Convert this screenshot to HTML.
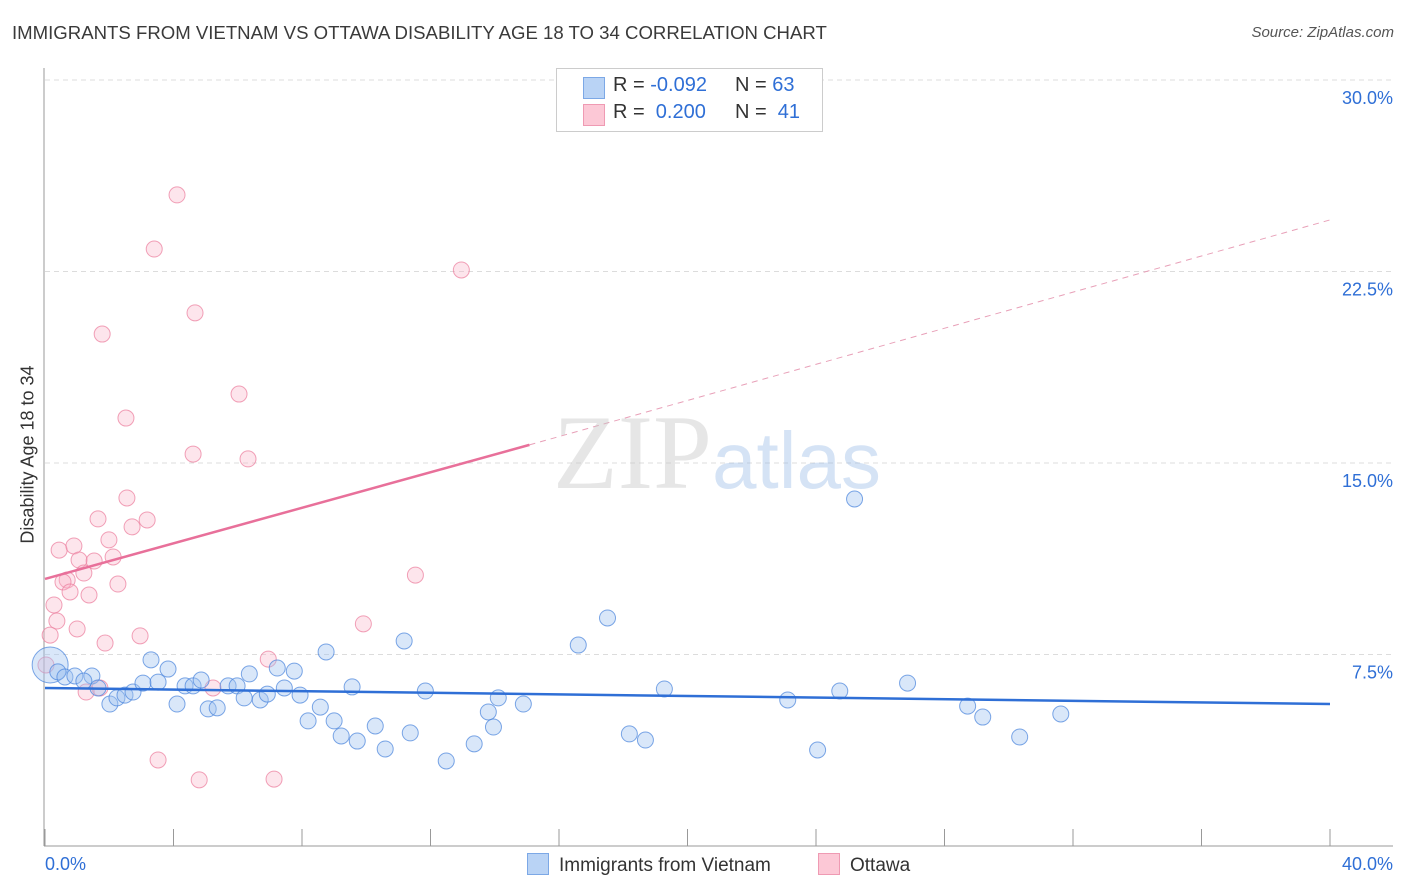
<!DOCTYPE html>
<html><head><meta charset="utf-8"><style>
body{margin:0;background:#fff;font-family:"Liberation Sans",sans-serif;}
#wrap{position:relative;width:1406px;height:892px;overflow:hidden;}
.t{position:absolute;white-space:nowrap;}
</style></head><body>
<div id="wrap">
<div class="t" style="left:12px;top:22px;font-size:18.6px;color:#3a3a3a;">IMMIGRANTS FROM VIETNAM VS OTTAWA DISABILITY AGE 18 TO 34 CORRELATION CHART</div>
<div class="t" style="right:12px;top:24px;font-size:15px;color:#555;font-style:italic;">Source: ZipAtlas.com</div>
<svg id="svg" width="1406" height="892" style="position:absolute;left:0;top:0"></svg>
<div class="t" style="left:553px;top:392px;font-size:106px;color:rgba(200,200,200,0.45);font-family:'Liberation Serif',serif;">ZIP<span style="font-family:'Liberation Sans',sans-serif;color:rgba(150,185,230,0.4);font-size:80px;">atlas</span></div>
<div class="t" style="left:-72px;top:444px;font-size:18px;color:#333;transform:rotate(-90deg);width:200px;text-align:center;">Disability Age 18 to 34</div>
<div style="position:absolute;left:556px;top:68px;width:265px;height:62px;border:1px solid #ccc;background:#fff;font-size:20px;color:#333;">
 <div style="position:absolute;left:26px;top:8px;width:20px;height:20px;background:#b9d3f5;border:1px solid #7ca8e6;"></div>
 <div class="t" style="left:56px;top:5px;">R = <span style="color:#2f6fd6">-0.092</span></div>
 <div class="t" style="left:178px;top:5px;">N = <span style="color:#2f6fd6">63</span></div>
 <div style="position:absolute;left:26px;top:35px;width:20px;height:20px;background:#fcc8d6;border:1px solid #ef9ab3;"></div>
 <div class="t" style="left:56px;top:32px;">R = &nbsp;<span style="color:#2f6fd6">0.200</span></div>
 <div class="t" style="left:178px;top:32px;">N = &nbsp;<span style="color:#2f6fd6">41</span></div>
</div>
<div style="position:absolute;left:527px;top:853px;font-size:19px;color:#333;"><span style="display:inline-block;width:20px;height:20px;background:#b9d3f5;border:1px solid #7ca8e6;vertical-align:-4px;margin-right:10px;"></span>Immigrants from Vietnam</div>
<div style="position:absolute;left:818px;top:853px;font-size:19px;color:#333;"><span style="display:inline-block;width:20px;height:20px;background:#fcc8d6;border:1px solid #ef9ab3;vertical-align:-4px;margin-right:10px;"></span>Ottawa</div>
</div>
<script>
const blueX=[0.16,0.40,0.62,0.93,1.46,1.21,1.65,2.02,2.24,2.49,2.74,3.05,3.30,3.52,3.83,4.11,4.36,4.61,4.86,5.08,5.36,5.70,5.98,6.20,6.36,6.70,6.92,7.23,7.45,7.76,7.94,8.19,8.57,8.75,9.00,9.22,9.56,9.72,10.28,10.59,11.18,11.37,11.84,12.49,13.36,13.80,13.96,14.11,14.89,16.60,17.51,18.19,18.69,19.28,23.12,24.05,24.74,25.20,26.85,28.72,29.19,30.34,31.62];
const blueY=[7.09,6.82,6.62,6.66,6.66,6.46,6.19,5.56,5.80,5.91,6.03,6.38,7.29,6.42,6.93,5.56,6.27,6.27,6.50,5.37,5.41,6.27,6.27,5.80,6.74,5.72,5.95,6.97,6.19,6.85,5.91,4.90,5.44,7.60,4.90,4.31,6.23,4.11,4.70,3.80,8.03,4.43,6.07,3.33,4.00,5.25,4.66,5.80,5.56,7.87,8.93,4.39,4.15,6.15,5.72,3.76,6.07,13.59,6.38,5.48,5.05,4.27,5.17];
const pinkX=[4.11,3.40,12.96,4.67,1.78,6.04,2.52,4.61,6.32,2.55,1.65,3.18,2.71,1.99,0.44,0.90,1.06,1.53,2.12,1.21,0.69,0.56,2.27,1.37,0.78,0.28,0.37,11.53,1.00,0.16,2.96,1.87,9.91,6.95,0.03,1.71,5.23,1.28,3.52,4.80,7.13];
const pinkY=[25.50,23.38,22.56,20.88,20.05,17.70,16.76,15.35,15.16,13.63,12.81,12.77,12.50,11.99,11.59,11.75,11.20,11.16,11.32,10.69,10.42,10.34,10.26,9.83,9.95,9.44,8.81,10.61,8.50,8.26,8.23,7.95,8.70,7.32,7.09,6.19,6.19,6.03,3.37,2.59,2.62];
const blueTrend=[6.19,5.56];
const pinkTrend=[10.46,15.71,24.52];
const pinkSolidEnd=15.08;
const yTicks=[7.5,15.0,22.5,30.0];
const xTickCount=10;
const X0=45,X1=1330,XMAX=40,YBASE=846,PXPER=191.5/7.5;
const sx=v=>X0+(X1-X0)*v/XMAX, sy=v=>YBASE-v*PXPER;
const svg=document.getElementById('svg');const NS='http://www.w3.org/2000/svg';
function mk(t,a){const e=document.createElementNS(NS,t);for(const k in a)e.setAttribute(k,a[k]);svg.appendChild(e);return e;}
yTicks.forEach(v=>{
 const l=mk('line',{x1:45,x2:1393,y1:sy(v),y2:sy(v),stroke:'#dcdcdc','stroke-dasharray':'5,4'});
 
 
 const t=mk('text',{x:1393,y:sy(v)+24,'text-anchor':'end','font-size':18,fill:'#2f6fd6','font-family':'Liberation Sans'});
 t.textContent=v.toFixed(1)+'%';
 
 
});
const ax=mk('line',{x1:44,x2:44,y1:68,y2:846,stroke:'#999'});


const bx=mk('line',{x1:44,x2:1393,y1:846,y2:846,stroke:'#999'});


for(let i=0;i<=xTickCount;i++){const x=sx(i*XMAX/xTickCount);
 const tk=mk('line',{x1:x,x2:x,y1:829,y2:846,stroke:'#999'});
 
 }
[[0,'0.0%','start',45],[40,'40.0%','end',1393]].forEach(d=>{
 const t=mk('text',{x:d[3],y:870,'text-anchor':d[2],'font-size':18,fill:'#2f6fd6','font-family':'Liberation Sans'});t.textContent=d[1];
 
 });
pinkX.forEach((x,i)=>{const c=mk('circle',{cx:sx(x),cy:sy(pinkY[i]),r:8,fill:'rgba(248,180,200,0.35)',stroke:'rgba(236,130,160,0.75)','stroke-width':1});
 
 });
blueX.forEach((x,i)=>{const c=mk('circle',{cx:sx(x),cy:sy(blueY[i]),r:i==0?18:8,fill:'rgba(160,195,240,0.4)',stroke:'rgba(70,130,220,0.7)','stroke-width':1});
 
 });
const bl=mk('line',{x1:sx(0),y1:sy(blueTrend[0]),x2:sx(40),y2:sy(blueTrend[1]),stroke:'#2f6fd6','stroke-width':2.5});


const pl=mk('line',{x1:sx(0),y1:sy(pinkTrend[0]),x2:sx(pinkSolidEnd),y2:sy(pinkTrend[1]),stroke:'#e8709a','stroke-width':2.5});


const pd=mk('line',{x1:sx(pinkSolidEnd),y1:sy(pinkTrend[1]),x2:sx(40),y2:sy(pinkTrend[2]),stroke:'#e8a0b8','stroke-width':1,'stroke-dasharray':'6,5'});


</script>
</body></html>
